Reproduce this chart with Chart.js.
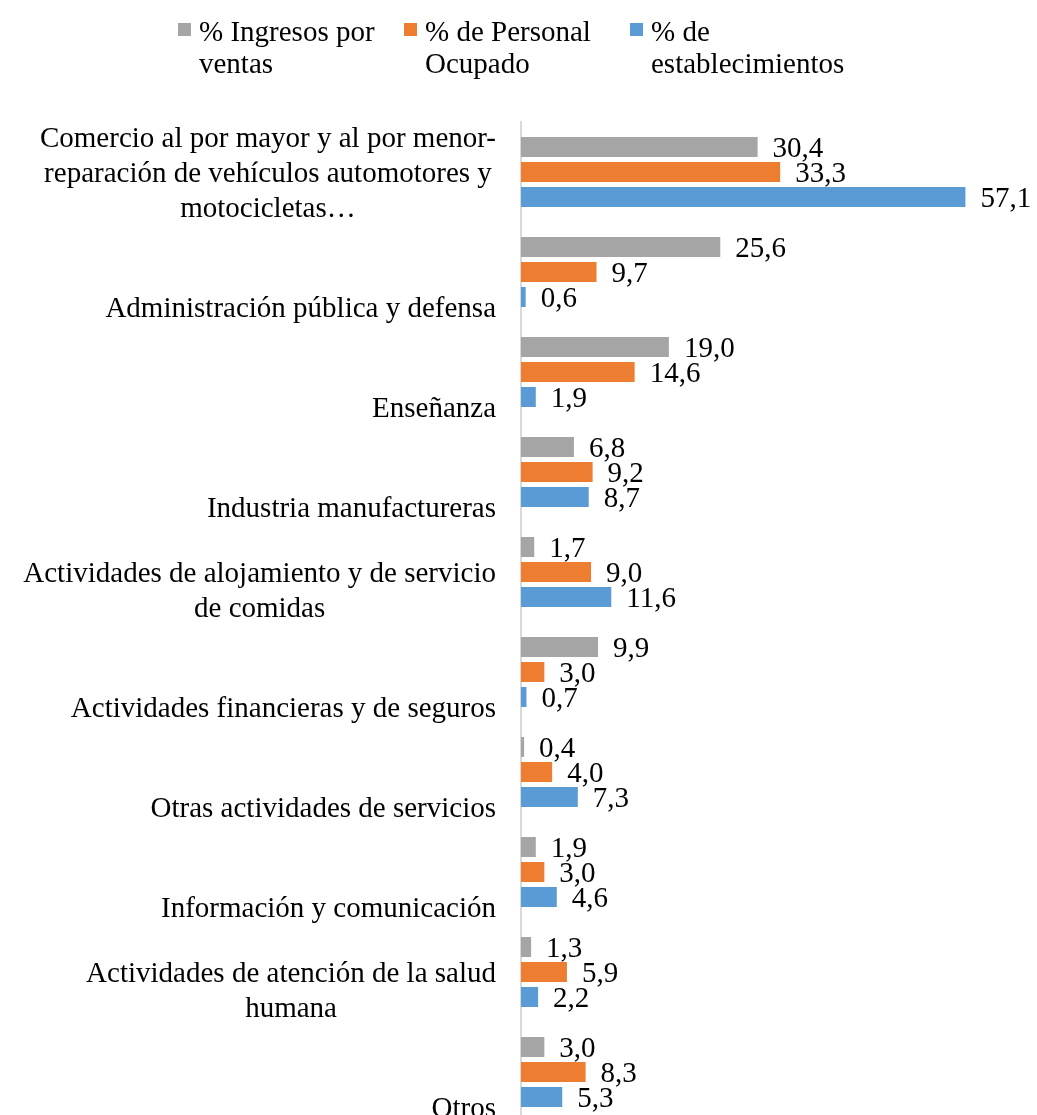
<!DOCTYPE html>
<html>
<head>
<meta charset="utf-8">
<script src="https://cdn.jsdelivr.net/npm/chart.js"></script>
<style>
html, body { margin: 0; padding: 0; background: #fff; overflow: hidden; }
#wrap { width: 1037px; height: 1122px; position: relative; }
</style>
</head>
<body>
<div id="wrap"><canvas id="bar-chart"></canvas></div>
<script>
// categorías (cada una con sus líneas de texto)
const categorias = [
  ["Comercio al por mayor y al por menor-", "reparación de vehículos automotores y", "motocicletas…"],
  ["Administración pública y defensa"],
  ["Enseñanza"],
  ["Industria manufactureras"],
  ["Actividades de alojamiento y de servicio", "de comidas"],
  ["Actividades financieras y de seguros"],
  ["Otras actividades de servicios"],
  ["Información y comunicación"],
  ["Actividades de atención de la salud", "humana"],
  ["Otros"]
];
const series = [
  ["% Ingresos por", "ventas"],
  ["% de Personal", "Ocupado"],
  ["% de", "establecimientos"]
];
const ingresos = [30.4, 25.6, 19.0, 6.8, 1.7, 9.9, 0.4, 1.9, 1.3, 3.0];
const personal = [33.3, 9.7, 14.6, 9.2, 9.0, 3.0, 4.0, 3.0, 5.9, 8.3];
const establecimientos = [57.1, 0.6, 1.9, 8.7, 11.6, 0.7, 7.3, 4.6, 2.2, 5.3];

const colores = ["#A5A5A5", "#ED7D31", "#5B9BD5"];
const fuente = "29px 'Liberation Serif', 'Times New Roman', serif";

// etiquetas de valor al final de cada barra
const valores = {
  id: 'valores',
  afterDatasetsDraw(chart) {
    const ctx = chart.ctx;
    ctx.save();
    ctx.font = fuente;
    ctx.fillStyle = '#000';
    ctx.textAlign = 'left';
    ctx.textBaseline = 'alphabetic';
    chart.data.datasets.forEach((ds, d) => {
      chart.getDatasetMeta(d).data.forEach((bar, i) => {
        ctx.fillText(ds.data[i].toFixed(1).replace('.', ','), bar.x + 15, bar.y + 10);
      });
    });
    ctx.restore();
  }
};

// etiquetas de categoría (bloque alineado a la derecha, líneas centradas)
const etiquetas = {
  id: 'etiquetas',
  afterDraw(chart) {
    const ctx = chart.ctx;
    const y = chart.scales.y;
    ctx.save();
    ctx.font = fuente;
    ctx.fillStyle = '#000';
    ctx.textAlign = 'center';
    categorias.forEach((lineas, i) => {
      const c = y.getPixelForValue(i);
      const w = Math.max(...lineas.map(l => ctx.measureText(l).width));
      const cx = y.right - 25 - w / 2;
      const n = lineas.length;
      lineas.forEach((l, j) => {
        ctx.fillText(l, cx, c + 45 - (n - 1 - j) * 35);
      });
    });
    ctx.restore();
  }
};

// leyenda en dos líneas
const leyenda = {
  id: 'leyenda',
  afterDraw(chart) {
    const ctx = chart.ctx;
    const xs = [178, 404, 630];
    ctx.save();
    ctx.font = fuente;
    ctx.textAlign = 'left';
    chart.data.datasets.forEach((ds, d) => {
      ctx.fillStyle = ds.backgroundColor;
      ctx.fillRect(xs[d], 23, 13, 13);
      ctx.fillStyle = '#000';
      series[d].forEach((l, j) => ctx.fillText(l, xs[d] + 21, 41 + j * 32));
    });
    ctx.restore();
  }
};

new Chart(document.getElementById('bar-chart'), {
  type: 'bar',
  data: {
    labels: categorias.map(l => l.join(' ')),
    datasets: [
      { label: series[0].join(' '), data: ingresos, backgroundColor: colores[0] },
      { label: series[1].join(' '), data: personal, backgroundColor: colores[1] },
      { label: series[2].join(' '), data: establecimientos, backgroundColor: colores[2] }
    ]
  },
  options: {
    indexAxis: 'y',
    responsive: true,
    maintainAspectRatio: false,
    animation: false,
    categoryPercentage: 0.75,
    barPercentage: 0.8,
    layout: { padding: { top: 122, right: 49, bottom: 0, left: 0 } },
    plugins: { legend: { display: false }, tooltip: { enabled: false } },
    scales: {
      x: { min: 0, max: 60, display: false },
      y: {
        grid: { display: false, drawTicks: false },
        border: { display: true, color: '#D9D9D9', width: 2 },
        ticks: { display: false },
        afterFit(scale) { scale.width = 521; }
      }
    }
  },
  plugins: [valores, etiquetas, leyenda]
});
</script>
</body>
</html>
